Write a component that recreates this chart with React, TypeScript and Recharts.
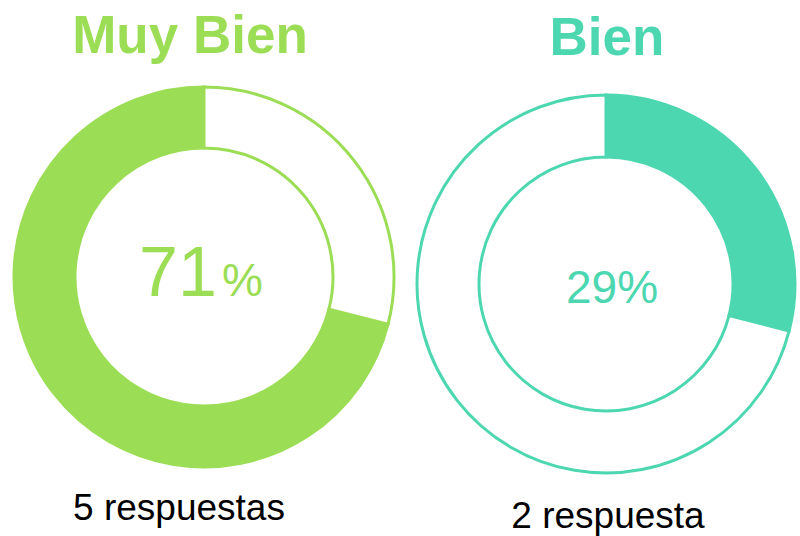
import { PieChart, Pie, Cell, Label } from 'recharts';

// 各ドーナツのデータ
const titles = ['Muy Bien', 'Bien'];
const percents = [71, 29];
const responses = ['5 respuestas', '2 respuesta'];
const COLORS = ['#9bdd55', '#4dd7b0'];

const FONT = '"Liberation Sans", Arial, sans-serif';

export default function App() {
  const left = [
    { name: titles[0], value: percents[0] },
    { name: 'resto', value: 100 - percents[0] },
  ];
  const right = [
    { name: titles[1], value: percents[1] },
    { name: 'resto', value: 100 - percents[1] },
  ];

  return (
    <div style={{ position: 'absolute', left: 0, top: 0, width: 800, height: 536, background: '#fff' }}>
      <PieChart width={800} height={536} margin={{ top: 0, right: 0, bottom: 0, left: 0 }}>
        {/* 左：Muy Bien（反時計回り） */}
        <Pie
          data={left}
          dataKey="value"
          cx={204}
          cy={277}
          innerRadius={129}
          outerRadius={190}
          startAngle={90}
          endAngle={450}
          stroke={COLORS[0]}
          strokeWidth={3}
          isAnimationActive={false}
        >
          <Cell fill={COLORS[0]} />
          <Cell fill="#ffffff" />
          <Label
            content={() => (
              <g fontFamily={FONT} fill={COLORS[0]}>
                <text x={190} y={53} textAnchor="middle" fontSize={53} fontWeight="bold" fill={COLORS[0]}>
                  {titles[0]}
                </text>
                <text x={139} y={296} fill={COLORS[0]}>
                  <tspan fontSize={70}>{percents[0]}</tspan>
                  <tspan fontSize={46} dx={5}>%</tspan>
                </text>
                <text x={179} y={520} textAnchor="middle" fontSize={37} fill="#000">
                  {responses[0]}
                </text>
              </g>
            )}
          />
        </Pie>
        {/* 右：Bien（時計回り） */}
        <Pie
          data={right}
          dataKey="value"
          cx={606}
          cy={284}
          innerRadius={127}
          outerRadius={189}
          startAngle={90}
          endAngle={-270}
          stroke={COLORS[1]}
          strokeWidth={3}
          isAnimationActive={false}
        >
          <Cell fill={COLORS[1]} />
          <Cell fill="#ffffff" />
          <Label
            content={() => (
              <g fontFamily={FONT}>
                <text x={607} y={55} textAnchor="middle" fontSize={53} fontWeight="bold" fill={COLORS[1]}>
                  {titles[1]}
                </text>
                <text x={612} y={303} textAnchor="middle" fontSize={46} fill={COLORS[1]}>
                  {percents[1]}%
                </text>
                <text x={608} y={528} textAnchor="middle" fontSize={37} fill="#000">
                  {responses[1]}
                </text>
              </g>
            )}
          />
        </Pie>
      </PieChart>
    </div>
  );
}
